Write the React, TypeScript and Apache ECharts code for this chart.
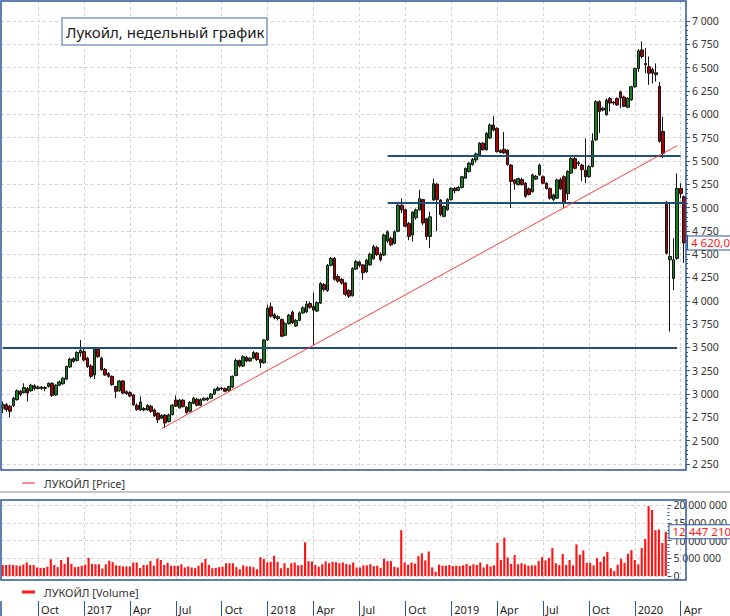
import React, { useEffect, useRef } from "react";
import * as echarts from "echarts";

// ---------- data ----------
const FIRST_WEEK = "2016-07-25";
const WEEK_COUNT = 194;

const weeks: string[] = Array.from({ length: WEEK_COUNT }, (_, i) => {
  const d = new Date(Date.parse(FIRST_WEEK + "T00:00:00Z") + i * 7 * 86400000);
  return d.toISOString().slice(0, 10);
});

const quarterLabels = ["Oct", "2017", "Apr", "Jul", "Oct", "2018", "Apr", "Jul", "Oct", "2019", "Apr", "Jul", "Oct", "2020", "Apr"];

// weekly candles: [open, close, low, high]
const ohlc: number[][] = [
  [2850, 2885, 2795, 2920], [2885, 2835, 2810, 2905], [2870, 2815, 2752, 2885], [2875, 2955, 2860, 2970], [2940, 3035, 2930, 3050],
  [3030, 2995, 2975, 3045], [3015, 3070, 3005, 3115], [3060, 3010, 2920, 3075], [3035, 3095, 3025, 3110], [3090, 3060, 3040, 3105],
  [3060, 3075, 3050, 3090], [3075, 3060, 3045, 3085], [3060, 3070, 3030, 3085], [3080, 3115, 3070, 3125], [3115, 2985, 2970, 3125],
  [2990, 3095, 2980, 3105], [3095, 3130, 3085, 3145], [3110, 3170, 3100, 3180], [3160, 3295, 3150, 3305], [3290, 3375, 3280, 3390],
  [3380, 3350, 3335, 3395], [3360, 3445, 3350, 3460], [3440, 3470, 3400, 3580], [3455, 3365, 3350, 3490], [3385, 3295, 3280, 3400],
  [3300, 3190, 3170, 3320], [3205, 3490, 3160, 3500], [3480, 3400, 3390, 3495], [3385, 3260, 3250, 3400], [3265, 3205, 3195, 3280],
  [3220, 3190, 3175, 3235], [3190, 3100, 3090, 3200], [3080, 3030, 2955, 3090], [3035, 3140, 3025, 3150], [3140, 3010, 3000, 3150],
  [3025, 3005, 2990, 3040], [3015, 2980, 2965, 3030], [2990, 2885, 2875, 3000], [2880, 2835, 2820, 2900], [2830, 2915, 2820, 2975],
  [2845, 2830, 2815, 2860], [2830, 2880, 2820, 2890], [2870, 2815, 2800, 2885], [2830, 2765, 2755, 2845], [2795, 2725, 2690, 2805],
  [2740, 2770, 2730, 2785], [2775, 2690, 2635, 2785], [2705, 2775, 2695, 2790], [2780, 2880, 2770, 2895], [2935, 2870, 2860, 2985],
  [2850, 2935, 2845, 2950], [2935, 2865, 2855, 2945], [2860, 2800, 2790, 2870], [2815, 2910, 2805, 2925], [2900, 2955, 2890, 2970],
  [2945, 2880, 2870, 2960], [2880, 2940, 2870, 2955], [2935, 2955, 2925, 2965], [2955, 2940, 2925, 2970], [2955, 3000, 2945, 3010],
  [3000, 3050, 2990, 3060], [3040, 3065, 3030, 3080], [3065, 3055, 3040, 3075], [3060, 3030, 3020, 3070], [3040, 3080, 3025, 3090],
  [3075, 3190, 3065, 3200], [3200, 3360, 3190, 3380],
  // 67
  [3360, 3300, 3285, 3370], [3300, 3400, 3290, 3415], [3395, 3355, 3340, 3410], [3355, 3385, 3345, 3395], [3385, 3445, 3375, 3460],
  [3440, 3370, 3355, 3450], [3370, 3335, 3280, 3380], [3335, 3580, 3325, 3590], [3580, 3920, 3570, 3960], [3935, 3835, 3820, 3980],
  [3850, 3815, 3800, 3870], [3810, 3830, 3790, 3845], [3800, 3620, 3610, 3810], [3630, 3755, 3620, 3770], [3755, 3845, 3745, 3860],
  [3880, 3765, 3750, 3895], [3730, 3790, 3720, 3805], [3790, 3870, 3780, 3885], [3870, 3925, 3860, 3940], [3880, 3965, 3870, 4000],
  [3970, 3930, 3915, 3990], [3940, 3900, 3530, 4090], [3890, 3980, 3880, 3995], [3975, 4185, 3965, 4200], [4175, 4120, 4100, 4190],
  [4110, 4380, 4095, 4395], [4380, 4455, 4370, 4470], [4455, 4230, 4215, 4470], [4260, 4210, 4195, 4285], [4230, 4190, 4175, 4245],
  [4190, 4070, 4050, 4200], [4110, 4050, 4030, 4125], [4055, 4345, 4045, 4360], [4340, 4420, 4330, 4440], [4415, 4380, 4360, 4430],
  [4385, 4300, 4225, 4395], [4310, 4435, 4300, 4450], [4385, 4500, 4375, 4515], [4450, 4580, 4440, 4600], [4570, 4495, 4480, 4590],
  [4500, 4440, 4420, 4520],
  // 108
  [4490, 4705, 4480, 4720], [4640, 4740, 4620, 4755], [4670, 4600, 4585, 4690], [4615, 4740, 4605, 4755], [4745, 5025, 4735, 5040],
  [5025, 4975, 4940, 5100], [4975, 4800, 4785, 4990], [4830, 4690, 4650, 4845], [4705, 4950, 4635, 4960], [4890, 4975, 4870, 4990],
  [4975, 5095, 4965, 5190], [5085, 4835, 4810, 5095], [4880, 4690, 4650, 4890], [4690, 4900, 4565, 4955], [5080, 5255, 5070, 5310],
  [5250, 5085, 4745, 5265], [5080, 4925, 4905, 5090], [4905, 5010, 4895, 5025], [4975, 5085, 4965, 5100], [5085, 5205, 5075, 5215],
  // 128
  [5205, 5180, 5150, 5220], [5185, 5215, 5175, 5230], [5215, 5330, 5205, 5340], [5315, 5420, 5305, 5430], [5385, 5475, 5375, 5490],
  [5460, 5515, 5450, 5530], [5510, 5575, 5480, 5590], [5565, 5690, 5555, 5700], [5690, 5620, 5610, 5700], [5620, 5795, 5610, 5810],
  [5745, 5885, 5735, 5900], [5885, 5830, 5815, 5980], [5850, 5600, 5590, 5860], [5610, 5590, 5580, 5625], [5625, 5585, 5575, 5810],
  [5615, 5460, 5450, 5625], [5455, 5280, 4995, 5465], [5295, 5260, 5190, 5305], [5245, 5310, 5235, 5320], [5300, 5245, 5235, 5320],
  [5260, 5120, 5105, 5275], [5200, 5140, 5130, 5215], [5170, 5350, 5160, 5365], [5305, 5335, 5295, 5350], [5350, 5455, 5340, 5470],
  [5330, 5260, 5250, 5345], [5260, 5205, 5190, 5270], [5205, 5100, 5085, 5215], [5085, 5135, 5070, 5150], [5100, 5295, 5090, 5310],
  [5300, 5200, 5190, 5320], [5330, 5045, 4995, 5345], [5150, 5385, 5080, 5400], [5370, 5525, 5360, 5540], [5525, 5420, 5410, 5540],
  [5480, 5470, 5445, 5500], [5455, 5405, 5280, 5470], [5400, 5330, 5260, 5740], [5330, 5440, 5320, 5455], [5440, 5715, 5430, 5795],
  [5725, 6135, 5715, 6150], [6135, 6030, 5800, 6150],
  // 170
  [6065, 6045, 6030, 6080], [5995, 6150, 5985, 6170], [6170, 6120, 6030, 6185], [6130, 6120, 6100, 6140], [6170, 6100, 6090, 6180],
  [6240, 6175, 6065, 6255], [6185, 6085, 6075, 6200], [6075, 6170, 6065, 6185], [6155, 6295, 6145, 6305], [6295, 6490, 6285, 6500],
  [6490, 6680, 6455, 6700], [6690, 6620, 6600, 6780], [6545, 6530, 6440, 6710], [6510, 6440, 6315, 6620], [6480, 6440, 6330, 6500],
  [6425, 6445, 6350, 6545], [6300, 5710, 5695, 6345], [5815, 5580, 5530, 5975], [5055, 4510, 4495, 5070], [4440, 4475, 3670, 5045],
  [4240, 4440, 4115, 4670], [4455, 5205, 4440, 5365], [5205, 5150, 5100, 5260], [5115, 4620, 4405, 5130],
];

// weekly volume, millions of shares
const volumeMln: number[] = [
  3.1, 3.1, 3.2, 3.1, 3.0, 2.9, 3.2, 3.8, 3.1, 3.1,
  2.4, 2.3, 2.3, 2.6, 4.7, 3.1, 2.5, 4.5, 3.4, 5.3,
  3.4, 2.5, 2.6, 2.9, 3.2, 5.1, 3.4, 3.3, 3.3, 2.1,
  3.3, 4.3, 3.9, 3.0, 2.9, 2.7, 2.7, 2.7, 3.8, 3.8,
  2.3, 3.1, 3.1, 4.2, 2.9, 4.9, 4.5, 3.1, 3.7, 2.9,
  2.9, 2.9, 3.3, 2.4, 2.7, 2.4, 2.2, 2.9, 3.8, 4.8,
  3.1, 2.2, 2.3, 2.5, 2.6, 3.6, 3.6, 3.6, 2.5, 1.9,
  3.0, 2.7, 2.7, 2.5, 1.9, 5.3, 4.8, 3.8, 4.0, 5.7,
  4.0, 2.2, 3.6, 2.3, 3.6, 3.8, 3.0, 3.1, 9.5, 4.2,
  4.1, 3.1, 2.6, 3.3, 4.1, 3.6, 4.0, 3.9, 3.6, 3.8,
  3.4, 3.2, 3.8, 2.4,
  2.4, 3.0, 3.0, 3.3, 2.8, 2.9, 2.3, 4.9, 4.2, 4.2, 2.6, 2.4, 12.9,
  3.8, 3.2, 3.8, 3.5, 5.6, 6.4, 4.4, 6.9, 2.4, 1.2,
  3.2, 2.9, 2.9, 3.1, 2.8, 2.9, 2.8, 3.0, 3.4, 2.9, 3.3, 3.1, 3.8, 2.4, 3.3, 2.7, 3.0,
  9.3, 4.5, 10.8, 5.2, 3.4, 5.9, 3.3, 3.6, 3.3, 2.9, 3.0,
  3.0, 4.2, 5.3, 4.4, 5.1, 7.9,
  3.6, 3.1, 6.2, 3.1, 4.5, 3.0, 8.9, 6.0, 7.2, 3.7,
  3.7, 3.0, 5.0, 4.0, 5.5, 6.8, 2.2, 1.4, 3.2, 4.8,
  3.7, 6.3, 7.3, 4.5, 3.3, 7.9, 10.4, 19.7, 18.6, 12.9,
  13.1, 9.3, 12.45,
];

const lastPrice = 4620;
const lastVolume = 12447210;

// horizontal levels: value, from week index, to week index
const levelLines = [
  { value: 3495, from: 0, to: 191 },
  { value: 5560, from: 109, to: 192 },
  { value: 5050, from: 109, to: 193 },
];
const trendLine = { from: 45, fromValue: 2630, to: 191, toValue: 5664 };

// ---------- helpers ----------
const quarterIndex: number[] = [];
weeks.forEach((w, i) => {
  const fri = new Date(Date.parse(w + "T00:00:00Z") + 4 * 86400000);
  if (fri.getUTCDate() <= 7 && fri.getUTCMonth() % 3 === 0) quarterIndex.push(i);
});
const quarterLabelByIndex: Record<number, string> = {};
quarterIndex.forEach((idx, k) => {
  quarterLabelByIndex[idx] = quarterLabels[k] ?? "";
});
const isQuarter = (index: number) => quarterLabelByIndex[index] !== undefined;

const groupDigits = (v: number) => String(Math.round(v)).replace(/\B(?=(\d{3})+(?!\d))/g, " ");

const FONT = "'Noto Sans', 'DejaVu Sans', sans-serif";
const BLUE = "#2b5797";
const LEVEL = "#1f4e79";
const GRID_LINE = "#d2d2d2";

const valueBadge = (text: string) => ({
  show: true,
  position: "end",
  distance: 2,
  formatter: text,
  color: "#ff1a1a",
  opacity: 1,
  fontSize: 11.5,
  fontFamily: FONT,
  backgroundColor: "#ffffff",
  borderColor: BLUE,
  borderWidth: 1,
  padding: [1, 3, 0, 3],
});

export default function App() {
  const ref = useRef<HTMLDivElement>(null);

  useEffect(() => {
    if (!ref.current) return;
    const chart = echarts.init(ref.current, undefined, { renderer: "svg", width: 730, height: 616 });

    const hiddenCat = (gridIndex: number, extra: any = {}) => ({
      type: "category",
      gridIndex,
      data: weeks,
      boundaryGap: true,
      axisLine: { show: false },
      axisTick: { show: false },
      axisLabel: { show: false },
      splitLine: { show: false },
      ...extra,
    });
    const vSplit = {
      show: true,
      interval: (i: number) => isQuarter(i),
      alignWithLabel: true,
      lineStyle: { color: GRID_LINE, type: [3, 3], width: 1 },
    };

    const option: any = {
      animation: false,
      backgroundColor: "#ffffff",
      grid: [
        { left: 1, right: 44, top: 21, height: 443 },
        { left: 1, right: 44, top: 1, height: 469 },
        { left: 1, right: 44, top: 505, height: 71 },
        { left: 1, right: 44, top: 500, height: 80 },
        { left: 1, right: 44, top: 601, height: 15 },
      ],
      xAxis: [
        hiddenCat(0),
        hiddenCat(1, { splitLine: vSplit }),
        hiddenCat(2),
        hiddenCat(3, { splitLine: vSplit }),
        hiddenCat(4, {
          position: "top",
          axisLine: { show: true, lineStyle: { color: BLUE, width: 1.2 } },
          splitLine: {
            show: true,
            interval: (i: number) => isQuarter(i),
            alignWithLabel: true,
            lineStyle: { color: BLUE, width: 1 },
          },
          axisLabel: {
            show: true,
            interval: (i: number) => isQuarter(i),
            inside: true,
            margin: 8,
            align: "left",
            verticalAlign: "middle",
            padding: [0, 0, 0, 3],
            color: "#222",
            fontSize: 11,
            fontFamily: FONT,
            formatter: (_v: string, i: number) => quarterLabelByIndex[i] ?? "",
          },
        }),
      ],
      yAxis: [
        {
          type: "value",
          gridIndex: 0,
          position: "right",
          min: 2250,
          max: 7000,
          interval: 250,
          axisLine: { show: false },
          axisTick: { show: true, length: 4, lineStyle: { color: BLUE } },
          minorTick: { show: true, splitNumber: 5, length: 2, lineStyle: { color: BLUE } },
          axisLabel: { margin: 6, color: "#333", fontSize: 10.5, fontFamily: FONT, formatter: groupDigits },
          splitLine: { show: true, lineStyle: { color: GRID_LINE, type: [3, 3] } },
        },
        { type: "value", gridIndex: 1, show: false },
        {
          type: "value",
          gridIndex: 2,
          position: "right",
          min: 0,
          max: 20000000,
          interval: 5000000,
          axisLine: { show: false },
          axisTick: { show: true, length: 4, lineStyle: { color: BLUE } },
          minorTick: { show: true, splitNumber: 5, length: 2, lineStyle: { color: BLUE } },
          axisLabel: { margin: 6, color: "#333", fontSize: 10.5, fontFamily: FONT, formatter: groupDigits },
          splitLine: { show: true, lineStyle: { color: GRID_LINE, type: [3, 3] } },
        },
        { type: "value", gridIndex: 3, show: false },
        { type: "value", gridIndex: 4, show: false },
      ],
      series: [
        {
          type: "candlestick",
          xAxisIndex: 0,
          yAxisIndex: 0,
          data: ohlc,
          barWidth: 3.1,
          clip: false,
          itemStyle: {
            color: "#17801e",
            color0: "#b00000",
            borderColor: "#141414",
            borderColor0: "#141414",
            borderWidth: 1,
          },
          markLine: {
            symbol: "none",
            silent: true,
            animation: false,
            label: { show: false },
            data: [
              ...levelLines.map((l) => [
                { coord: [l.from, l.value], lineStyle: { color: LEVEL, width: 2, type: "solid" } },
                { coord: [l.to, l.value] },
              ]),
              [
                { coord: [trendLine.from, trendLine.fromValue], lineStyle: { color: "#ff2a2a", width: 1, type: "solid", opacity: 0.9 } },
                { coord: [trendLine.to, trendLine.toValue] },
              ],
              {
                yAxis: lastPrice,
                lineStyle: { color: "rgba(0,0,0,0)", width: 0, opacity: 1 },
                label: valueBadge(groupDigits(lastPrice) + ",0"),
              },
            ],
          },
        },
        {
          type: "bar",
          xAxisIndex: 2,
          yAxisIndex: 2,
          data: volumeMln.map((v) => v * 1000000),
          barWidth: "62%",
          clip: false,
          itemStyle: { color: "#ff1414" },
          markLine: {
            symbol: "none",
            silent: true,
            animation: false,
            data: [
              {
                yAxis: lastVolume,
                lineStyle: { color: "rgba(0,0,0,0)", width: 0, opacity: 1 },
                label: valueBadge(groupDigits(lastVolume)),
              },
            ],
          },
        },
      ],
      graphic: [
        { type: "rect", z: 100, shape: { x: 1, y: 1, width: 685, height: 469 }, style: { fill: "none", stroke: BLUE, lineWidth: 1.5 } },
        { type: "rect", z: 100, shape: { x: 1, y: 500, width: 685, height: 80 }, style: { fill: "none", stroke: BLUE, lineWidth: 1.5 } },
        { type: "line", z: 100, shape: { x1: 0, y1: 492, x2: 730, y2: 492 }, style: { stroke: "#c4c4c4", lineWidth: 2 } },
        { type: "line", z: 100, shape: { x1: 1, y1: 601, x2: 1, y2: 616 }, style: { stroke: BLUE, lineWidth: 1.5 } },
        { type: "line", z: 100, shape: { x1: 22, y1: 483, x2: 35, y2: 483 }, style: { stroke: "#ff1a1a", lineWidth: 1 } },
        {
          type: "text", z: 100, x: 44, y: 483,
          style: { text: "ЛУКОЙЛ [Price]", fill: "#333", font: `11px ${FONT}`, verticalAlign: "middle" },
        },
        { type: "line", z: 100, shape: { x1: 22, y1: 592, x2: 35, y2: 592 }, style: { stroke: "#ff1a1a", lineWidth: 3 } },
        {
          type: "text", z: 100, x: 44, y: 592,
          style: { text: "ЛУКОЙЛ [Volume]", fill: "#333", font: `11px ${FONT}`, verticalAlign: "middle" },
        },
        { type: "rect", z: 100, shape: { x: 62, y: 18, width: 205, height: 27 }, style: { fill: "#ffffff", stroke: "#7f9cc4", lineWidth: 1.5 } },
        {
          type: "text", z: 101, x: 66, y: 32,
          style: { text: "Лукойл, недельный график", fill: "#1a1a1a", font: `15px ${FONT}`, verticalAlign: "middle" },
        },
      ],
    };

    chart.setOption(option);
    return () => chart.dispose();
  }, []);

  return (
    <div
      ref={ref}
      style={{ position: "fixed", left: 0, top: 0, width: 730, height: 616, overflow: "hidden", background: "#fff" }}
    />
  );
}
